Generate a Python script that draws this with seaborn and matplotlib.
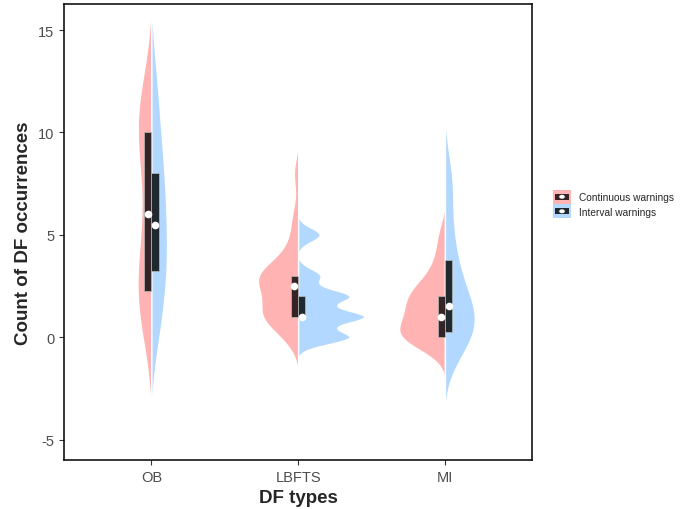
import numpy as np
import pandas as pd
import seaborn as sns
import matplotlib.pyplot as plt
from matplotlib.patches import Rectangle, Ellipse

df_types = ["OB", "LBFTS", "MI"]
warn_types = ["Continuous warnings", "Interval warnings"]

ob_cont = [1, 1, 2, 2, 3, 4, 5, 7, 9, 10, 10, 11, 11, 12]
ob_int = [0, 1, 2, 3, 4, 4, 5, 6, 7, 8, 8, 10, 11, 13]
lbfts_cont = [0, 0, 1, 1, 1, 1, 1, 1, 2, 2, 2, 2, 3, 3, 3, 3, 3, 3, 3, 4, 4, 5, 6, 8]
lbfts_int = [0] * 7 + [1] * 9 + [2] * 7 + [3] * 3 + [5] * 3
mi_cont = [0] * 7 + [1] * 4 + [2] * 5 + [3] * 2 + [4] * 1 + [5] * 1
mi_int = [0, 0, 0, 0, 1, 1, 1, 2, 2, 3, 4, 5, 7, 8]

groups = {
    ("OB", "Continuous warnings"): ob_cont,
    ("OB", "Interval warnings"): ob_int,
    ("LBFTS", "Continuous warnings"): lbfts_cont,
    ("LBFTS", "Interval warnings"): lbfts_int,
    ("MI", "Continuous warnings"): mi_cont,
    ("MI", "Interval warnings"): mi_int,
}
rows = []
for (t, w), vals in groups.items():
    for v in vals:
        rows.append({"type": t, "warning": w, "count": v})
data = pd.DataFrame(rows)

light = {"Continuous warnings": "#FFB3B3", "Interval warnings": "#B3D8FF"}
dark = {"Continuous warnings": "#352425", "Interval warnings": "#20292F"}
white = {"Continuous warnings": "white", "Interval warnings": "white"}


def nrd0(kde):
    # R's default bandwidth rule, expressed as a scipy factor
    x = kde.dataset[0]
    sd = np.std(x, ddof=1)
    iqr = np.subtract(*np.percentile(x, [75, 25]))
    lo = min(sd, iqr / 1.34) if iqr > 0 else sd
    bw = 0.9 * lo * len(x) ** -0.2
    return bw / sd


class KeyHandler:
    # legend key: light square, dark bar across, white dot in the middle
    def legend_artist(self, legend, orig_handle, fontsize, handlebox):
        fill, bar = orig_handle
        x0, y0 = -handlebox.xdescent, -handlebox.ydescent
        w, h = handlebox.width, handlebox.height
        tr = handlebox.get_transform()
        bg = Rectangle((x0, y0), w, h, facecolor=fill, edgecolor="none", transform=tr)
        box = Rectangle((x0 + 0.1 * w, y0 + 0.3 * h), 0.8 * w, 0.4 * h,
                        facecolor=bar, edgecolor="none", transform=tr)
        dot = Ellipse((x0 + w / 2, y0 + h / 2), 0.32 * w, 0.28 * h,
                      facecolor="white", edgecolor="none", transform=tr)
        for a in (bg, box, dot):
            handlebox.add_artist(a)
        return bg


sns.set_style("white")
plt.rcParams["font.family"] = ["Liberation Sans", "DejaVu Sans"]
plt.rcParams["axes.unicode_minus"] = False

fig = plt.figure(figsize=(6.8, 5.1), dpi=100)
ax = fig.add_axes([64 / 680, 49 / 510, 468 / 680, 456 / 510])

sns.violinplot(data=data, x="type", y="count", hue="warning", order=df_types,
               hue_order=warn_types, split=True, inner=None, palette=light,
               bw_method=nrd0, cut=3, density_norm="area", common_norm=True,
               width=0.9, linecolor="white", linewidth=1, saturation=1,
               legend=False, ax=ax)

sns.boxplot(data=data, x="type", y="count", hue="warning", order=df_types,
            hue_order=warn_types, width=0.1, dodge=True, palette=dark,
            saturation=1, showcaps=False, showfliers=False, whis=0,
            whiskerprops={"linewidth": 0}, medianprops={"linewidth": 0},
            linecolor="#BBBBBB", linewidth=0.5, legend=False, ax=ax)

sns.pointplot(data=data, x="type", y="count", hue="warning", order=df_types,
              hue_order=warn_types, estimator="median", errorbar=None,
              dodge=0.05, linestyle="none", markers="o", palette=white,
              markersize=5.5, markeredgewidth=0, legend=False, ax=ax)

ax.set_xlim(-0.595, 2.593)
ax.set_ylim(-6.0, 16.27)
ax.set_yticks([-5, 0, 5, 10, 15])
ax.set_xlabel("DF types", fontsize=13.5, fontweight="bold")
ax.set_ylabel("Count of DF occurrences", fontsize=13.5, fontweight="bold")
ax.tick_params(axis="both", which="both", direction="out", length=3.5,
               width=0.8, color="#333333", labelsize=10.5,
               labelcolor="#4D4D4D", bottom=True, left=True)
for s in ax.spines.values():
    s.set_color("black")
    s.set_linewidth(1.1)

handles = [(light[w], dark[w]) for w in warn_types]
fig.legend(handles, warn_types, handler_map={tuple: KeyHandler()},
           loc="center left", bbox_to_anchor=(0.800, 0.598), frameon=False,
           fontsize=7.3, handlelength=1.75, handleheight=1.75, labelspacing=0.05,
           handletextpad=0.85)

fig.savefig("out.png", dpi=100)
